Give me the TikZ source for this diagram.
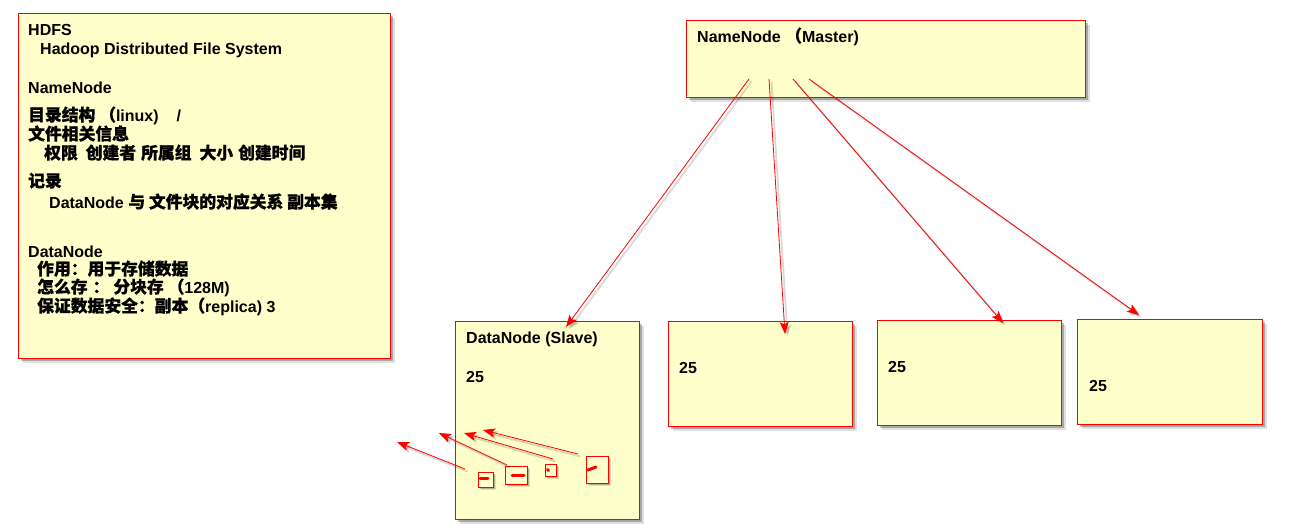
\documentclass[tikz,border=0pt]{standalone}
\usepackage{fontspec}
\setmainfont{Liberation Sans}
\newfontfamily\cjk[Scale=1.05,FakeBold=0.6]{Noto Sans CJK SC}
\newcommand\zh[1]{{\cjk #1}}
\usetikzlibrary{shadows,arrows.meta}
\definecolor{note}{HTML}{FFFFCC}
\definecolor{redline}{HTML}{FF0000}
\begin{document}
\begin{tikzpicture}[x=1pt,y=-1pt,
  notebox/.style={draw=redline,fill=note,line width=0.9pt,inner sep=0pt,anchor=north west,
    drop shadow={shadow xshift=5pt,shadow yshift=-5pt,opacity=0.12,fill=black},
    drop shadow={shadow xshift=3pt,shadow yshift=-3pt,opacity=0.25,fill=black}},
  smallbox/.style={draw=redline,fill=note,line width=0.9pt,inner sep=0pt,anchor=north west,
    drop shadow={shadow xshift=3pt,shadow yshift=-3pt,opacity=0.12,fill=black},
    drop shadow={shadow xshift=1.5pt,shadow yshift=-1.5pt,opacity=0.2,fill=black}},
  txt/.style={anchor=base west,inner sep=0pt,font=\fontsize{16pt}{19pt}\selectfont\bfseries},
  link/.style={draw=redline,line width=0.8pt,-{Stealth[length=12pt,width=9pt,inset=2.5pt]},
    preaction={draw=black,opacity=0.15,line width=1.8pt,transform canvas={shift={(2.5pt,-2.5pt)}}}},
  blockmark/.style={draw=redline,line width=3pt,line cap=round}]
\useasboundingbox (0,0) rectangle (1292,531);
\fill[white] (0,0) rectangle (1292,531);

% boxes
\node[notebox,minimum width=372pt,minimum height=345pt] (info) at (18,13) {};
\node[notebox,minimum width=399pt,minimum height=77pt] (nn) at (686,20) {};
\node[notebox,minimum width=184pt,minimum height=198pt] (dn1) at (455,321) {};
\node[notebox,minimum width=184pt,minimum height=105pt] (dn2) at (668,321) {};
\node[notebox,minimum width=184pt,minimum height=105pt] (dn3) at (877,320) {};
\node[notebox,minimum width=185pt,minimum height=105pt] (dn4) at (1077,319) {};

% info text
\node[txt] (t1) at (28,35) {HDFS};
\node[txt] (t2) at (40,54) {Hadoop Distributed File System};
\node[txt] (t3) at (28,93) {NameNode};
\node[txt] (t4) at (28,121) {\zh{目录结构 （}linux)\hspace{18pt}/};
\node[txt] (t5) at (28,140) {\zh{文件相关信息}};
\node[txt] (t6) at (44,159) {\zh{权限\hspace{8pt}创建者\hspace{5pt}所属组\hspace{8pt}大小\hspace{5pt}创建时间}};
\node[txt] (t7) at (28,187) {\zh{记录}};
\node[txt] (t8) at (49,208) {DataNode \zh{与 文件块的对应关系 副本集}};
\node[txt] (t9) at (28,257) {DataNode};
\node[txt] (t10) at (37,275) {\zh{作用：用于存储数据}};
\node[txt] (t11) at (37,293) {\zh{怎么存}\hspace{5pt}\zh{：}\hspace{4pt}\zh{分块存 （}128M)};
\node[txt] (t12) at (37,312) {\zh{保证数据安全：副本（}replica) 3};

% other texts
\node[txt] (nnt) at (697,42) {NameNode \zh{（}Master)};
\node[txt] (dn1t) at (466,343) {DataNode (Slave)};
\node[txt] (dn1n) at (466,382) {25};
\node[txt] (dn2n) at (679,373) {25};
\node[txt] (dn3n) at (888,372) {25};
\node[txt] (dn4n) at (1089,391) {25};

% NameNode -> DataNodes
\coordinate (s1) at (749,79);
\coordinate (s2) at (769,79);
\coordinate (s3) at (793,79);
\coordinate (s4) at (809,79);
\coordinate (e1) at (566,327);
\coordinate (e2) at (785,334);
\coordinate (e3) at (1003,323);
\coordinate (e4) at (1139,315);
\draw[link] (s1) -- (e1);
\draw[link] (s2) -- (e2);
\draw[link] (s3) -- (e3);
\draw[link] (s4) -- (e4);

% small blocks
\node[smallbox,minimum width=15pt,minimum height=15pt] (b1) at (478,472) {};
\node[smallbox,minimum width=22pt,minimum height=18pt] (b2) at (505,466) {};
\node[smallbox,minimum width=11pt,minimum height=12pt] (b3) at (545,464) {};
\node[smallbox,minimum width=22pt,minimum height=27pt] (b4) at (586,456) {};
\draw[blockmark] (480,478.5) -- (488,478.5);
\draw[blockmark] (512,475) -- (524,475);
\draw[blockmark] (547.5,469.5) -- (548.5,470.5);
\draw[blockmark] (588,470) -- (596,467);

% block arrows
\coordinate (a1s) at (465,469);
\coordinate (a1e) at (397,442);
\coordinate (a2s) at (507,465);
\coordinate (a2e) at (439,433);
\coordinate (a3s) at (553,459);
\coordinate (a3e) at (464,433);
\coordinate (a4s) at (578,454);
\coordinate (a4e) at (483,430);
\draw[link] (a1s) -- (a1e);
\draw[link] (a2s) -- (a2e);
\draw[link] (a3s) -- (a3e);
\draw[link] (a4s) -- (a4e);
\end{tikzpicture}
\end{document}
